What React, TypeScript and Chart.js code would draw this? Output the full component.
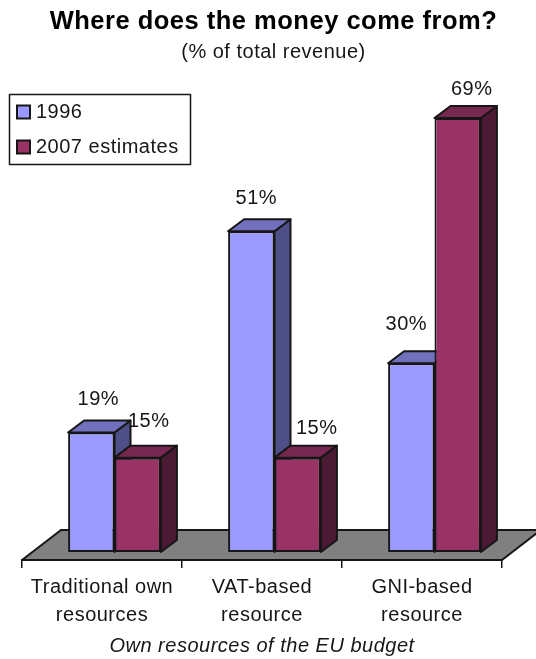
import React, { useEffect, useRef } from "react";
import { Chart, registerables } from "chart.js";

Chart.register(...registerables);

const categories = [
  ["Traditional own", "resources"],
  ["VAT-based", "resource"],
  ["GNI-based", "resource"],
];
const series1996 = [19, 51, 30];
const series2007 = [15, 15, 69];

const INK = "#161616";
const SANS = "'Liberation Sans', Arial, sans-serif";

// Shading of the extruded faces, per dataset.
const faceColours = [
  { top: "#7070BC", side: "#4F4F88" },
  { top: "#762850", side: "#4D1A33" },
];
// The bars stand part way back on the floor, and extrude further back.
const PLANE = { dx: 12.5, dy: -8 };
const DEPTH = { dx: 16, dy: -12 };
const FLOOR = { dx: 39, dy: -30 };
// Hand placement of the value labels, relative to each bar's top centre.
const labelNudge = [
  [[7, -33], [11, -36]],
  [[5, -33], [19, -29]],
  [[-5, -39], [14, -29]],
];

const polygon = (ctx: CanvasRenderingContext2D, pts: number[][], fill: string) => {
  ctx.beginPath();
  pts.forEach(([x, y], i) => (i ? ctx.lineTo(x, y) : ctx.moveTo(x, y)));
  ctx.closePath();
  ctx.fillStyle = fill;
  ctx.fill();
  ctx.strokeStyle = INK;
  ctx.lineWidth = 2;
  ctx.lineJoin = "round";
  ctx.stroke();
};

const bars3d = {
  id: "bars3d",
  afterLayout(chart: any) {
    // Centre the headings over the drawing and pin the legend top left.
    chart.boxes.forEach((b: any) => {
      if (b.position === "top") {
        b.left += 11.5;
        b.right += 11.5;
      }
    });
    const lg = chart.legend;
    const w = lg.width;
    const h = lg.height;
    lg.left = 6;
    lg.right = lg.left + w;
    lg.top = 87;
    lg.bottom = lg.top + h;
  },
  beforeDraw(chart: any) {
    // A little tracking on all canvas text; sizing the canvas clears it, so set it here.
    chart.ctx.letterSpacing = "0.5px";
  },
  beforeDatasetsDraw(chart: any) {
    const { ctx, chartArea } = chart;
    const { left, right, bottom } = chartArea;
    polygon(
      ctx,
      [
        [left, bottom],
        [right, bottom],
        [right + FLOOR.dx, bottom + FLOOR.dy],
        [left + FLOOR.dx, bottom + FLOOR.dy],
      ],
      "#808080",
    );
    ctx.save();
    ctx.translate(PLANE.dx, PLANE.dy);
    [0, 1].forEach((ds) => {
      chart.getDatasetMeta(ds).data.forEach((el: any) => {
        const l = el.x - el.width / 2;
        const r = el.x + el.width / 2;
        polygon(
          ctx,
          [
            [r, el.y],
            [r + DEPTH.dx, el.y + DEPTH.dy],
            [r + DEPTH.dx, el.base + DEPTH.dy],
            [r, el.base],
          ],
          faceColours[ds].side,
        );
        polygon(
          ctx,
          [
            [l, el.y],
            [l + DEPTH.dx, el.y + DEPTH.dy],
            [r + DEPTH.dx, el.y + DEPTH.dy],
            [r, el.y],
          ],
          faceColours[ds].top,
        );
      });
    });
    // Front faces are drawn by the bar controller inside this same shift.
    ctx.save();
  },
  afterDatasetsDraw(chart: any) {
    const { ctx } = chart;
    ctx.restore();
    ctx.restore();
    ctx.save();
    ctx.fillStyle = INK;
    ctx.font = `20px ${SANS}`;
    ctx.textAlign = "center";
    ctx.textBaseline = "middle";
    [0, 1].forEach((ds) => {
      chart.getDatasetMeta(ds).data.forEach((el: any, i: number) => {
        const value = chart.data.datasets[ds].data[i];
        const [nx, ny] = labelNudge[i][ds];
        ctx.fillText(`${value}%`, el.x + PLANE.dx + nx, el.y + PLANE.dy + ny);
      });
    });
    ctx.restore();
  },
  afterDraw(chart: any) {
    // Frame around the legend.
    const { ctx } = chart;
    ctx.save();
    ctx.strokeStyle = INK;
    ctx.lineWidth = 1.5;
    ctx.strokeRect(9.5, 94.5, 181, 70);
    ctx.restore();
  },
};

export default function App() {
  const ref = useRef<HTMLCanvasElement>(null);

  useEffect(() => {
    const chart = new Chart(ref.current!, {
      type: "bar",
      data: {
        labels: categories as any,
        datasets: [
          {
            label: "1996",
            data: series1996,
            backgroundColor: "#9999FF",
            borderColor: INK,
            borderWidth: 2,
            borderSkipped: false,
            clip: false as any,
          },
          {
            label: "2007 estimates",
            data: series2007,
            backgroundColor: "#993366",
            borderColor: INK,
            borderWidth: 2,
            borderSkipped: false,
            clip: false as any,
          },
        ],
      },
      plugins: [bars3d],
      options: {
        responsive: false,
        animation: false,
        layout: { padding: { left: 22, right: 34, top: 0, bottom: 0 } },
        datasets: { bar: { categoryPercentage: 0.58, barPercentage: 1 } },
        plugins: {
          tooltip: { enabled: false },
          title: {
            display: true,
            text: "Where does the money come from?",
            color: "#000",
            font: { family: SANS, size: 25.5, weight: "bold" },
            padding: { top: 6.2, bottom: 3.2 },
          },
          subtitle: {
            display: true,
            text: "(% of total revenue)",
            color: INK,
            font: { family: SANS, size: 20, weight: "normal" },
            padding: { top: 0, bottom: 18 },
          },
          legend: {
            position: "chartArea",
            align: "start",
            labels: {
              usePointStyle: true,
              pointStyle: "rect",
              boxWidth: 5,
              boxHeight: 13,
              padding: 15,
              color: INK,
              font: { family: SANS, size: 20 },
            },
          },
        },
        scales: {
          x: {
            border: { display: true, color: INK, width: 2 },
            grid: {
              drawOnChartArea: false,
              drawTicks: true,
              tickLength: 8,
              color: INK,
              lineWidth: 1.5,
            },
            ticks: {
              color: INK,
              padding: 5,
              maxRotation: 0,
              autoSkip: false,
              font: { family: SANS, size: 20, lineHeight: 28.5 / 20 },
            },
            title: {
              display: true,
              text: "Own resources of the EU budget",
              color: INK,
              font: { family: SANS, size: 20, style: "italic" },
              padding: { top: 0, bottom: 1 },
            },
            afterFit(scale: any) {
              scale.height = 99;
            },
          },
          y: { display: false, min: 0, max: 76 },
        },
      } as any,
    });
    return () => chart.destroy();
  }, []);

  return (
    <div style={{ position: "fixed", left: 0, top: 0 }}>
      <canvas ref={ref} width={536} height={659} style={{ display: "block" }} />
    </div>
  );
}
